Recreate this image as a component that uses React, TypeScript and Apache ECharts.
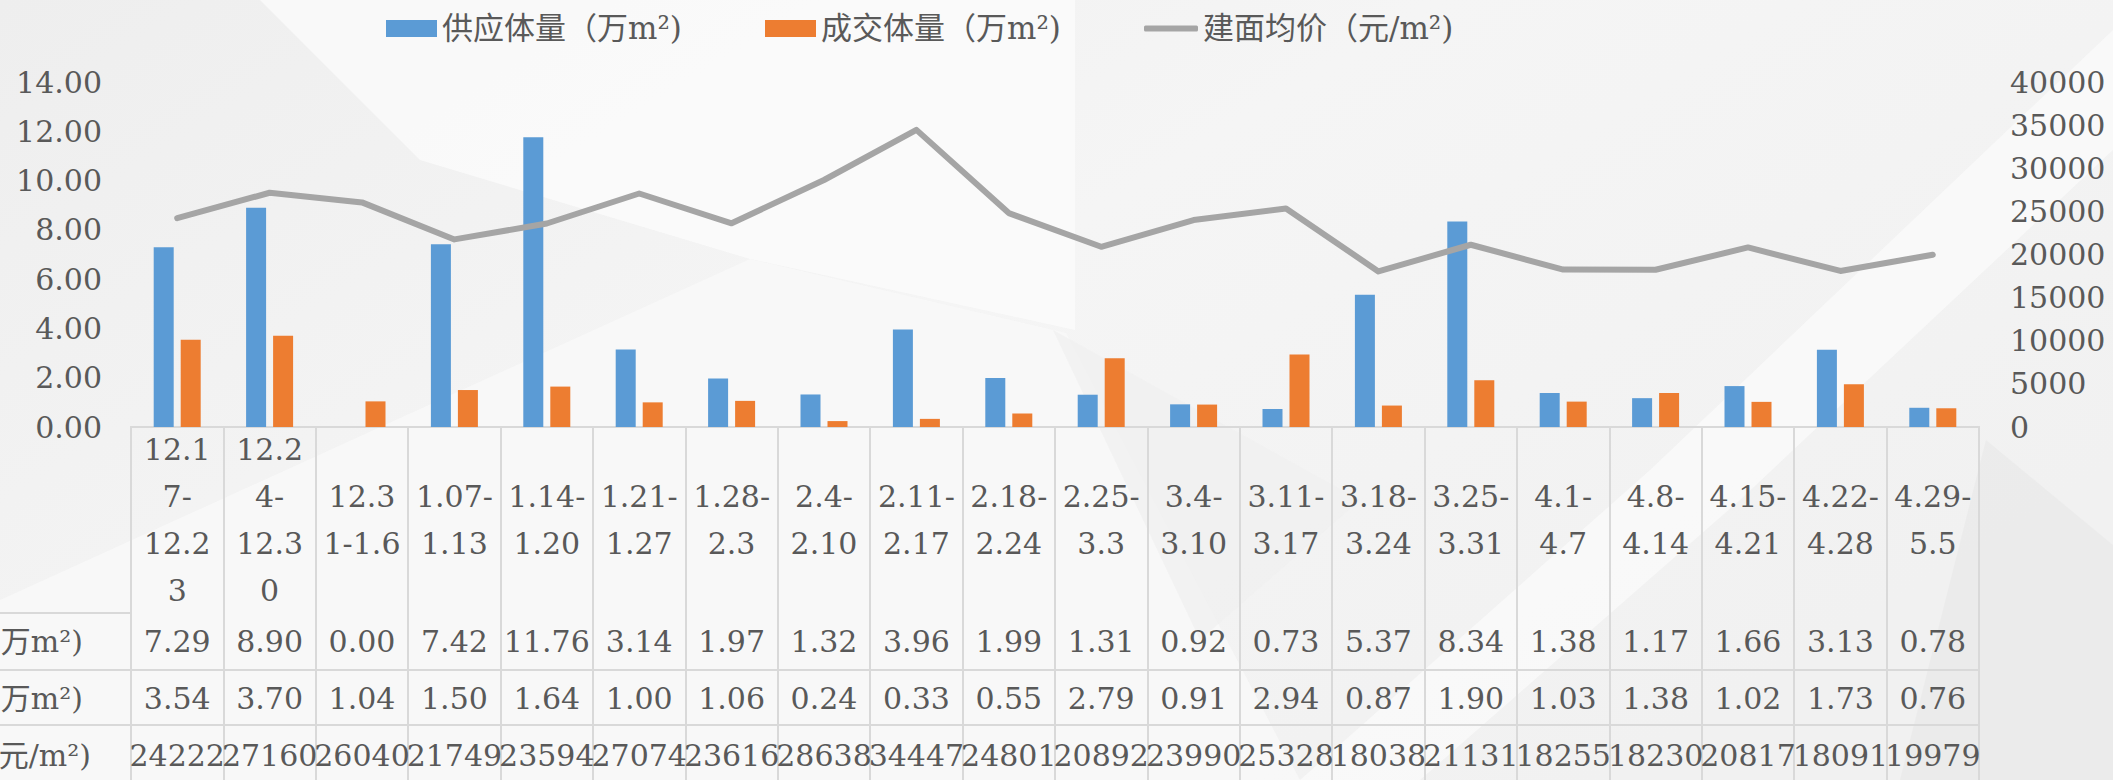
import React, { useEffect, useRef } from "react";
import * as echarts from "echarts";

const categories = [
  "12.17-12.23", "12.24-12.30", "12.31-1.6", "1.07-1.13", "1.14-1.20",
  "1.21-1.27", "1.28-2.3", "2.4-2.10", "2.11-2.17", "2.18-2.24",
  "2.25-3.3", "3.4-3.10", "3.11-3.17", "3.18-3.24", "3.25-3.31",
  "4.1-4.7", "4.8-4.14", "4.15-4.21", "4.22-4.28", "4.29-5.5",
];
const supplyValues = [7.29, 8.9, 0.0, 7.42, 11.76, 3.14, 1.97, 1.32, 3.96, 1.99, 1.31, 0.92, 0.73, 5.37, 8.34, 1.38, 1.17, 1.66, 3.13, 0.78];
const dealValues = [3.54, 3.7, 1.04, 1.5, 1.64, 1.0, 1.06, 0.24, 0.33, 0.55, 2.79, 0.91, 2.94, 0.87, 1.9, 1.03, 1.38, 1.02, 1.73, 0.76];
const priceValues = [24222, 27160, 26040, 21749, 23594, 27074, 23616, 28638, 34447, 24801, 20892, 23990, 25328, 18038, 21131, 18255, 18230, 20817, 18091, 19979];
const seriesNames = ["供应体量（万m²)", "成交体量（万m²)", "建面均价（元/m²)"];
const leftAxisTicks = { min: 0, max: 14, interval: 2 };
const rightAxisTicks = { min: 0, max: 40000, interval: 5000 };

const TEXT = "#595959";
const LINE = "#d9d9d9";
const FONT = "'DejaVu Serif', 'Noto Sans CJK SC', serif";

const charW = (c: string) => (/[0-9]/.test(c) ? 19 : c === "." ? 9.5 : c === "-" ? 10 : 19);
const textW = (t: string) => Array.from(t).reduce((a, c) => a + charW(c), 0);
function wrapLabel(s: string, maxW = 80): string {
  const words: string[] = [];
  let cur = "";
  for (const ch of s) {
    cur += ch;
    if (ch === "-") { words.push(cur); cur = ""; }
  }
  if (cur) words.push(cur);
  const lines: string[] = [];
  let line = "";
  for (const word of words) {
    if (textW(line + word) <= maxW) { line += word; continue; }
    if (line && textW(word) <= maxW) { lines.push(line); line = word; continue; }
    if (line) { lines.push(line); line = ""; }
    for (const ch of word) {
      if (textW(line + ch) <= maxW) line += ch;
      else { lines.push(line); line = ch; }
    }
  }
  if (line) lines.push(line);
  return lines.join("\n");
}

function rowAxis(values: number[], offset: number, margin: number, fmt: (v: number) => string) {
  return {
    type: "category",
    data: categories,
    position: "bottom",
    offset,
    axisLine: { show: true, lineStyle: { color: LINE, width: 2 } },
    axisTick: { show: false },
    splitLine: { show: false },
    axisLabel: {
      interval: 0,
      hideOverlap: false,
      formatter: (_v: string, i: number) => fmt(values[i]),
      fontSize: 30,
      fontFamily: FONT,
      color: TEXT,
      margin,
      verticalAlign: "middle",
    },
  };
}

export default function App() {
  const ref = useRef<HTMLDivElement>(null);
  useEffect(() => {
    document.body.style.margin = "0";
    const chart = echarts.init(ref.current!, null, { renderer: "svg" });
    const legendText = { fontSize: 31, color: TEXT, fontFamily: FONT };
    const poly = (points: number[][], fill: string, opacity = 1) => ({
      type: "polygon", z: -99, silent: true, shape: { points }, style: { fill, opacity },
    });
    const bg: any[] = [
      {
        type: "rect", z: -100, silent: true,
        shape: { x: 0, y: 0, width: 2113, height: 780 },
        style: {
          fill: {
            type: "linear", x: 0, y: 0, x2: 1, y2: 0.6,
            colorStops: [
              { offset: 0, color: "#eeeeee" },
              { offset: 0.5, color: "#f5f5f5" },
              { offset: 1, color: "#f1f1f1" },
            ],
          },
        },
      },
      poly([[260, 0], [1075, 0], [1075, 330], [750, 259], [420, 160]], "#fbfbfb", 0.8),
      poly([[0, 600], [750, 259], [1066, 333], [1300, 780], [0, 780]], "#f9f9f9", 0.8),
      poly([[1053, 330], [1360, 500], [1200, 640]], "#efefef", 0.7),
      poly([[2113, 30], [2113, 150], [1740, 500], [1420, 780], [1300, 780], [1650, 470]], "#fafafa", 0.8),
      poly([[1986, 440], [2113, 545], [2113, 780], [1900, 780]], "#eaeaea", 0.8),
    ];
    const tableLines = [613, 670, 725].map((y) => ({
      type: "line", z: 1, silent: true,
      shape: { x1: 0, y1: y, x2: 131, y2: y },
      style: { stroke: LINE, lineWidth: 2 },
    }));
    const rowLabels = [
      { text: seriesNames[0], x: 83, y: 641 },
      { text: seriesNames[1], x: 83, y: 698 },
      { text: seriesNames[2], x: 91, y: 755 },
    ].map((r) => ({
      type: "text", z: 2, silent: true, x: r.x, y: r.y,
      style: { text: r.text, fill: TEXT, font: `30px ${FONT}`, align: "right", verticalAlign: "middle" },
    }));

    chart.setOption({
      animation: false,
      textStyle: { fontFamily: FONT },
      graphic: [...bg, ...tableLines, ...rowLabels],
      legend: [
        { data: [seriesNames[0]], left: 381, top: 8, icon: "rect", itemWidth: 51, itemHeight: 17, textStyle: legendText },
        { data: [seriesNames[1]], left: 760, top: 8, icon: "rect", itemWidth: 51, itemHeight: 17, textStyle: legendText },
        { data: [seriesNames[2]], left: 1139, top: 8, icon: "roundRect", itemWidth: 54, itemHeight: 6, itemStyle: { color: "#A5A5A5" }, textStyle: legendText },
      ],
      grid: { left: 131, right: 134, top: 82, bottom: 353, containLabel: false, outerBoundsMode: "none" },
      xAxis: [
        {
          type: "category",
          data: categories,
          position: "bottom",
          axisLine: { show: true, lineStyle: { color: LINE, width: 2 } },
          axisTick: { show: true, interval: 0, length: 354, lineStyle: { color: LINE, width: 2 } },
          splitLine: { show: false },
          axisLabel: {
            interval: 0,
            hideOverlap: false,
            formatter: (v: string) => wrapLabel(v),
            fontSize: 30,
            lineHeight: 47,
            fontFamily: FONT,
            color: TEXT,
            margin: 93,
            verticalAlign: "middle",
          },
        },
        rowAxis(supplyValues, 186, 28, (v) => v.toFixed(2)),
        rowAxis(dealValues, 243, 28, (v) => v.toFixed(2)),
        rowAxis(priceValues, 298, 30, (v) => String(v)),
      ],
      yAxis: [
        {
          type: "value", position: "left", ...leftAxisTicks,
          axisLine: { show: false }, axisTick: { show: false }, splitLine: { show: false },
          axisLabel: { formatter: (v: number) => v.toFixed(2), fontSize: 30, fontFamily: FONT, color: TEXT, margin: 29 },
        },
        {
          type: "value", position: "right", ...rightAxisTicks,
          axisLine: { show: false }, axisTick: { show: false }, splitLine: { show: false },
          axisLabel: { formatter: (v: number) => String(v), fontSize: 30, fontFamily: FONT, color: TEXT, margin: 31 },
        },
      ],
      series: [
        { name: seriesNames[0], type: "bar", data: supplyValues, xAxisIndex: 0, yAxisIndex: 0, barWidth: 20, barGap: "35%", itemStyle: { color: "#5B9BD5" } },
        { name: seriesNames[1], type: "bar", data: dealValues, xAxisIndex: 0, yAxisIndex: 0, barWidth: 20, barGap: "35%", itemStyle: { color: "#ED7D31" } },
        {
          name: seriesNames[2], type: "line", data: priceValues, xAxisIndex: 0, yAxisIndex: 1,
          symbol: "none", showSymbol: false,
          lineStyle: { color: "#A5A5A5", width: 6, cap: "round", join: "round" },
          itemStyle: { color: "#A5A5A5" },
        },
      ],
    });
    return () => chart.dispose();
  }, []);
  return <div ref={ref} style={{ width: 2113, height: 780 }} />;
}
